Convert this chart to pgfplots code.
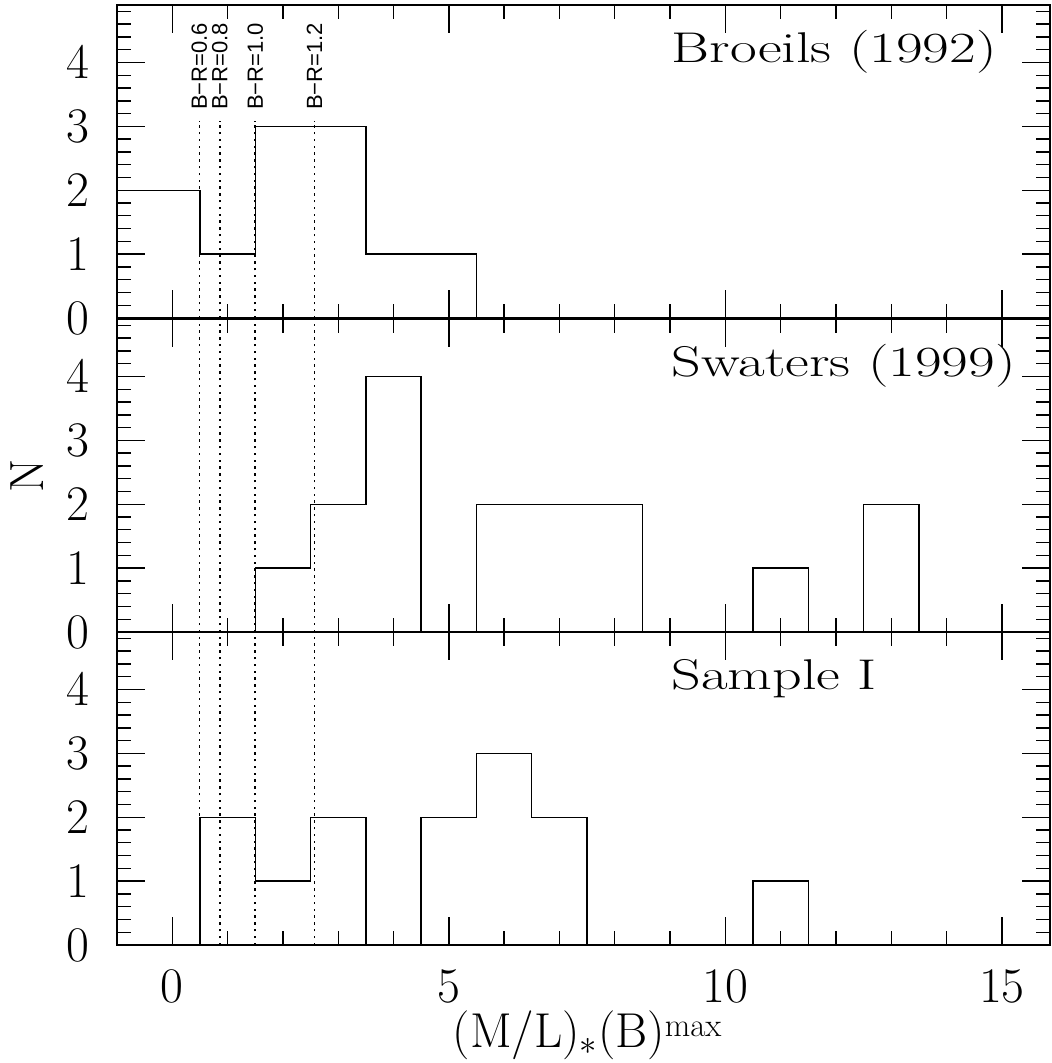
\documentclass[border=0pt]{standalone}
\usepackage{fontspec}
\usepackage{graphicx}
\usepackage{pgfplots}
\pgfplotsset{compat=1.18}
\newfontfamily\helv{Liberation Sans}
\newcommand\tfont{\fontsize{21.5}{26}\selectfont}
\newcommand\wide[1]{\scalebox{1.35}[1]{#1}}

\pgfplotsset{
  panel/.style={
    scale only axis, width=466.5pt, height=156.5pt,
    xmin=-1, xmax=15.87, ymin=0, ymax=4.9,
    xtick={0,5,10,15}, minor xtick={-1,...,15},
    ytick={0,1,2,3,4}, minor ytick={0,0.2,...,4.81},
    tick align=inside, major tick length=14pt, minor tick length=7pt,
    axis line style={line width=1.2pt},
    every tick/.style={black, line width=0.7pt},
    ticklabel style={font=\fontsize{23}{26}\selectfont},
    yticklabel style={anchor=east, inner sep=0pt, xshift=-13.5pt},
    xticklabel style={anchor=north, inner sep=0pt, yshift=-12.5pt},
    clip=false,
  },
  hist/.style={const plot, black, line width=0.7pt, mark=none},
  br/.style={black, line width=0.9pt, dash pattern=on 1.2pt off 2.2pt, mark=none},
}

\begin{document}
\begin{tikzpicture}
\useasboundingbox (0,0) rectangle (526pt,531.5pt);

% bottom panel: Sample I
\begin{axis}[panel, at={(58.5pt,59pt)}, anchor=south west,
  xlabel={(M/L)$_*$(B)\raisebox{5.5pt}{\fontsize{16.5}{18}\selectfont max}},
  xlabel style={at={(axis description cs:0.5038,-0.3259)}, anchor=base,
    font=\fontsize{24.5}{28}\selectfont, inner sep=0pt}]
\addplot[hist] coordinates {(-1,0)(0.5,2)(1.5,1)(2.5,2)(3.5,0)(4.5,2)(5.5,3)(6.5,2)(7.5,0)(10.5,1)(11.5,0)};
\addplot[br] coordinates {(0.49,0)(0.49,4.9)};
\addplot[br] coordinates {(0.86,0)(0.86,4.9)};
\addplot[br] coordinates {(1.50,0)(1.50,4.9)};
\addplot[br] coordinates {(2.57,0)(2.57,4.9)};
\node[anchor=base west, inner sep=0pt] at (axis cs:9.02,4.0) {\tfont\wide{Sample I}};
\end{axis}

% middle panel: Swaters (1999)
\begin{axis}[panel, at={(58.5pt,215.5pt)}, anchor=south west,
  xticklabels={},
  ylabel={N},
  ylabel style={at={(axis description cs:-0.0965,0.5)}, anchor=center,
    font=\fontsize{24}{28}\selectfont, inner sep=0pt}]
\addplot[hist] coordinates {(-1,0)(1.5,1)(2.5,2)(3.5,4)(4.5,0)(5.5,2)(8.5,0)(10.5,1)(11.5,0)(12.5,2)(13.5,0)};
\addplot[br] coordinates {(0.49,0)(0.49,4.9)};
\addplot[br] coordinates {(0.86,0)(0.86,4.9)};
\addplot[br] coordinates {(1.50,0)(1.50,4.9)};
\addplot[br] coordinates {(2.57,0)(2.57,4.9)};
\node[anchor=base west, inner sep=0pt] at (axis cs:9.02,4.0) {\tfont\wide{Swaters (1999)}};
\end{axis}

% top panel: Broeils (1992)
\begin{axis}[panel, at={(58.5pt,372.5pt)}, anchor=south west,
  xticklabels={}]
\addplot[hist] coordinates {(-1,2)(0.5,1)(1.5,3)(3.5,1)(5.5,0)};
\addplot[br] coordinates {(0.49,0)(0.49,3.09)};
\addplot[br] coordinates {(0.86,0)(0.86,3.09)};
\addplot[br] coordinates {(1.50,0)(1.50,3.09)};
\addplot[br] coordinates {(2.57,0)(2.57,3.09)};
\node[anchor=base west, inner sep=0pt] at (axis cs:9.02,4.0) {\tfont\wide{Broeils (1992)}};
\foreach \xx/\lab in {0.49/0.6, 0.86/0.8, 1.50/1.0, 2.57/1.2}{
  \edef\tmp{\noexpand\node[rotate=90, anchor=west, inner sep=0pt, font=\noexpand\helv\noexpand\fontsize{11}{12}\noexpand\selectfont]
    at (axis cs:\xx,3.25) {B−R=\lab};}
  \tmp
}
\end{axis}
\end{tikzpicture}
\end{document}
